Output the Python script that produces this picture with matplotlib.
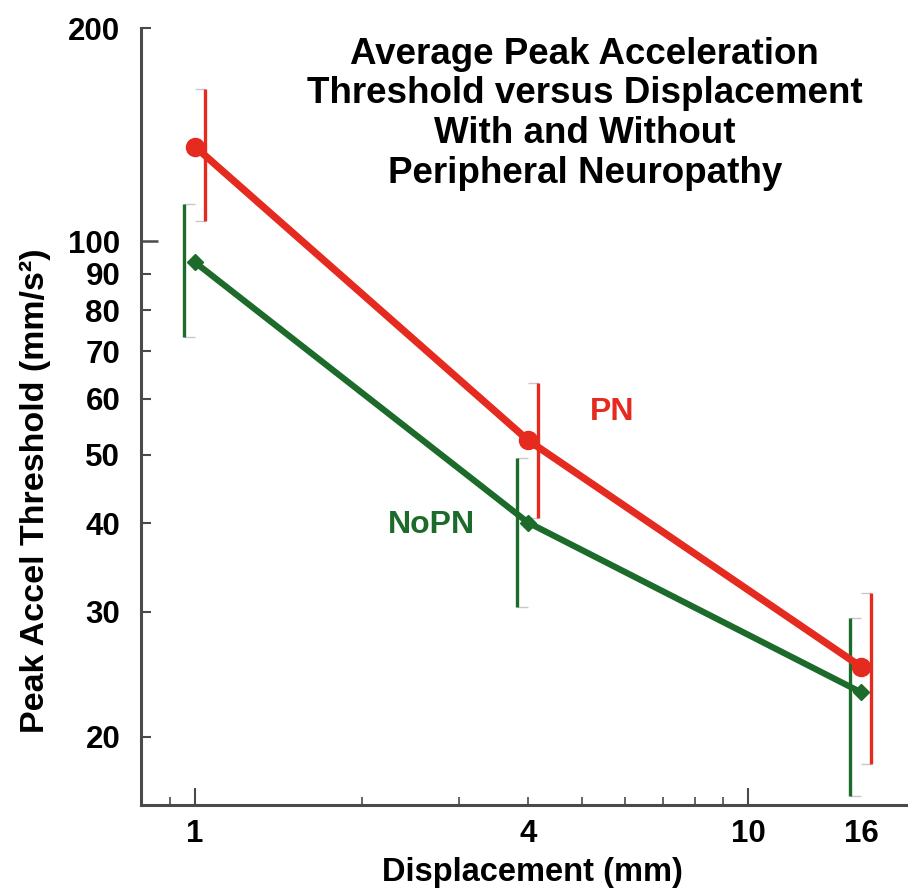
import numpy as np
import matplotlib
matplotlib.use("Agg")
import matplotlib.pyplot as plt
from matplotlib.ticker import FixedLocator, FixedFormatter

# --- data ---
displacement = [1, 4, 16]

pn_mean = [136.0, 52.4, 25.1]
pn_low = [107.0, 40.7, 18.3]
pn_high = [164.0, 63.2, 31.9]

nopn_mean = [93.4, 40.1, 23.1]
nopn_low = [73.2, 30.5, 16.5]
nopn_high = [112.8, 49.4, 29.4]

y_major = [100]
y_minor = [20, 30, 40, 50, 60, 70, 80, 90, 200]
x_major = [1, 10]
x_major_labels = ["1", "10"]
x_minor = [0.9, 2, 3, 4, 5, 6, 7, 8, 9, 16]
x_minor_labels = ["", "", "", "4", "", "", "", "", "", "16"]

title_lines = ["Average Peak Acceleration", "Threshold versus Displacement",
               "With and Without", "Peripheral Neuropathy"]

RED = "#e52a1f"
GREEN = "#1c6b2b"
AXIS = "#4a4a4a"

plt.rcParams["font.family"] = ["Liberation Sans", "DejaVu Sans"]
plt.rcParams["font.weight"] = "bold"
plt.rcParams["axes.labelweight"] = "bold"


def draw_series(ax, x, mean, low, high, color, marker, ms, lw, shift):
    x = np.asarray(x, dtype=float)
    xb = x * shift  # error bars sit a little beside the points
    ax.plot(x, mean, color=color, lw=lw, solid_capstyle="butt", zorder=3)
    ax.plot(x, mean, ls="none", marker=marker, ms=ms, color=color, zorder=4)
    ax.vlines(xb, low, high, color=color, lw=2.4, zorder=2)
    # faint caps between bar and point
    for xi, xbi, lo, hi in zip(x, xb, low, high):
        ax.hlines([lo, hi], min(xi, xbi), max(xi, xbi), color="#c8c8c8", lw=1.0, zorder=1)


fig = plt.figure(figsize=(9.08, 8.89), dpi=100)
ax = fig.add_axes([0.1553, 0.0945, 0.8447, 0.874])

ax.set_xscale("log")
ax.set_yscale("log")

draw_series(ax, displacement, pn_mean, pn_low, pn_high, RED, "o", 13, 5.2, 1.042)
draw_series(ax, displacement, nopn_mean, nopn_low, nopn_high, GREEN, "D", 8.5, 4.5, 0.955)

ax.set_xlim(0.7986, 19.45)
ax.set_ylim(16.02, 200)

for side in ["top", "right"]:
    ax.spines[side].set_visible(False)
for side in ["left", "bottom"]:
    ax.spines[side].set_color(AXIS)
    ax.spines[side].set_linewidth(2.2)

ax.yaxis.set_major_locator(FixedLocator(y_major))
ax.yaxis.set_major_formatter(FixedFormatter([str(v) for v in y_major]))
ax.yaxis.set_minor_locator(FixedLocator(y_minor))
ax.yaxis.set_minor_formatter(FixedFormatter([str(v) for v in y_minor]))

ax.xaxis.set_major_locator(FixedLocator(x_major))
ax.xaxis.set_major_formatter(FixedFormatter(x_major_labels))
ax.xaxis.set_minor_locator(FixedLocator(x_minor))
ax.xaxis.set_minor_formatter(FixedFormatter(x_minor_labels))

ax.tick_params(axis="y", which="major", direction="in", length=12, width=1.8,
               color=AXIS, labelsize=22.5, pad=15)
ax.tick_params(axis="y", which="minor", direction="in", length=7, width=1.5,
               color=AXIS, labelsize=22.5, pad=15)
ax.tick_params(axis="x", which="major", direction="in", length=12, width=1.5,
               color=AXIS, labelsize=22.5, pad=10)
ax.tick_params(axis="x", which="minor", direction="in", length=6, width=1.2,
               color=AXIS, labelsize=22.5, pad=10)
# no tick mark at 16, only the label
ax.xaxis.get_minor_ticks()[-1].tick1line.set_visible(False)

ax.set_xlabel("Displacement (mm)", fontsize=23.5)
ax.xaxis.set_label_coords(0.51, -0.067)
ax.set_ylabel("Peak Accel Threshold (mm/s\u00b2)", fontsize=24.5)
ax.yaxis.set_label_coords(-0.118, 0.405)

ax.text(5.68, 57.5, "PN", color=RED, fontsize=23, ha="center", va="center")
ax.text(2.68, 39.8, "NoPN", color=GREEN, fontsize=23, ha="center", va="center")

fig.text(0.644, 0.872, "\n".join(title_lines), fontsize=26.5, ha="center",
         va="center", linespacing=1.17)

fig.savefig("out.png", dpi=100)
